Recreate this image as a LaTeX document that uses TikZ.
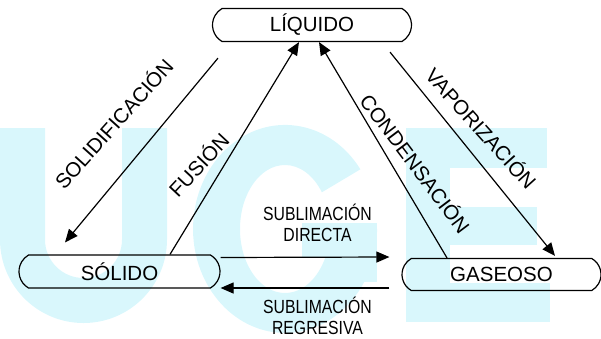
\documentclass[tikz,border=0pt]{standalone}
\usepackage{fontspec}
\setmainfont{Liberation Sans}
\newfontfamily\narrowfont[FakeStretch=0.83]{Liberation Sans}
\usetikzlibrary{shapes.misc,arrows.meta}
\definecolor{marca}{RGB}{217,247,252}

\begin{document}
\begin{tikzpicture}[x=1pt,y=-1pt,
  estado/.style={draw,rounded rectangle,rounded rectangle arc length=120,line width=1.2pt,
    minimum width=199pt,minimum height=33pt,inner sep=0pt,font=\fontsize{20.5}{24}\selectfont},
  paso/.style={inner sep=0pt,font=\fontsize{20.5}{24}\selectfont},
  subl/.style={inner sep=0pt,align=center,font=\narrowfont\fontsize{19}{21}\selectfont},
  flecha/.style={line width=1.2pt,-{Triangle[length=13pt,width=11pt]}}]
 \useasboundingbox (0,0) rectangle (601,338);
 % background letters U G E
 \fill[marca] (0,128) -- (0,239.5) arc[start angle=180,end angle=0,radius=83.5] -- (167,128)
   -- (122,128) -- (122,239.5) arc[start angle=0,end angle=180,radius=38.5] -- (45,128) -- cycle;
 \fill[marca] (360.4,169.3) arc[start angle=-35,end angle=-360,x radius=92,y radius=104]
   -- (330,229) arc[start angle=-360,end angle=-35,x radius=45,y radius=64] -- cycle;
 \fill[marca] (302,223) rectangle (377,258);
 \fill[marca] (335,223) rectangle (377,282);
 \fill[marca] (406,128) rectangle (450,322);
 \fill[marca] (406,128) rectangle (547,168);
 \fill[marca] (406,207) rectangle (537,245);
 \fill[marca] (406,283) rectangle (550,322);
 % states
 \node[estado] (liq) at (312,25) {LÍQUIDO};
 \node[estado,minimum width=201pt] (sol) at (119.5,271.5) {SÓLIDO};
 \node[estado,minimum height=32pt] (gas) at (501.5,274.5) {GASEOSO};
 % changes of state
 \draw[flecha] ([xshift=-94pt,yshift=-16pt]liq.south) -- ([xshift=-54.5pt,yshift=12pt]sol.north);
 \draw[flecha] ([xshift=50.5pt]sol.north) -- ([xshift=-13pt]liq.south);
 \draw[flecha] ([xshift=-54.5pt]gas.north) -- ([xshift=7pt]liq.south);
 \draw[flecha] ([xshift=78pt,yshift=-10pt]liq.south) -- ([xshift=53.5pt,yshift=2pt]gas.north);
 \draw[flecha] ([yshift=14pt]sol.east) -- ([xshift=-12pt,yshift=17.5pt]gas.west);
 \draw[flecha] ([xshift=-12pt,yshift=-13.5pt]gas.west) -- ([yshift=-16.5pt]sol.east);
 \node[paso,rotate=48] (tsol) at (113,123) {SOLIDIFICACIÓN};
 \node[paso,rotate=47] (tfus) at (198,164) {FUSIÓN};
 \node[paso,rotate=-53] (tcon) at (416,163) {CONDENSACIÓN};
 \node[paso,rotate=-48] (tvap) at (482,128) {VAPORIZACIÓN};
 \node[subl] (tdir) at (317.5,223) {SUBLIMACIÓN\\DIRECTA};
 \node[subl] (treg) at (317.5,316) {SUBLIMACIÓN\\REGRESIVA};
\end{tikzpicture}
\end{document}
